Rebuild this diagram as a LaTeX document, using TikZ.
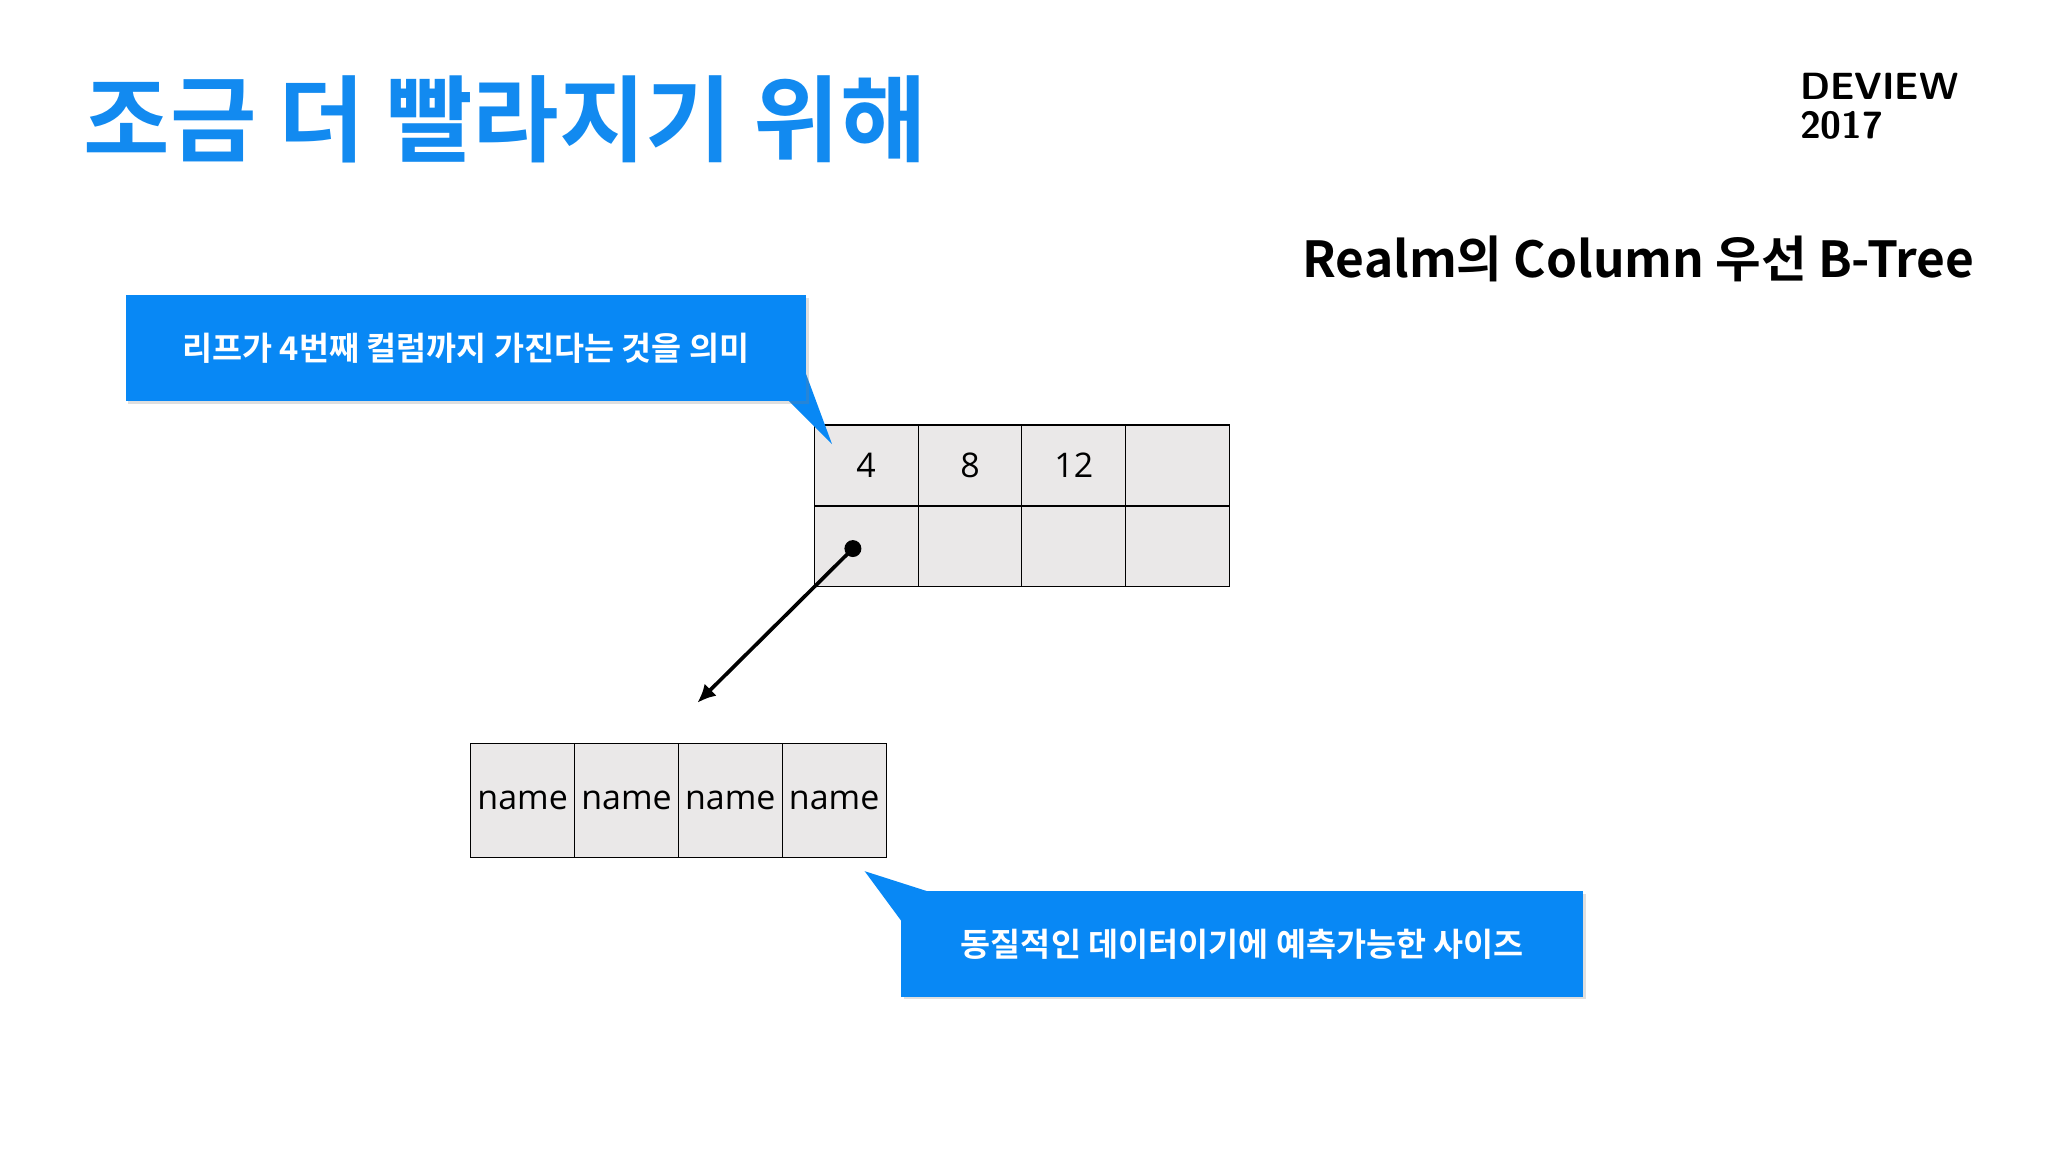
\documentclass[tikz,border=0pt]{standalone}
\usepackage{fontspec}
\setmainfont{Open Sans}
\newfontfamily\kr{Noto Sans CJK KR}
\newfontfamily\krb{Noto Sans CJK KR Bold}
\usetikzlibrary{arrows.meta,shadows}
\definecolor{tblue}{RGB}{18,138,240}
\definecolor{cblue}{RGB}{8,136,245}
\definecolor{cellg}{RGB}{234,232,232}
\tikzset{cell/.style={draw=black,fill=cellg,line width=0.8pt,minimum width=79.5pt,minimum height=62pt,inner sep=0,font=\fontsize{26}{30}\selectfont},
callout/.style={fill=cblue,drop shadow={opacity=0.25,shadow xshift=2pt,shadow yshift=-2pt}}}
\begin{document}
\begin{tikzpicture}[x=1pt,y=-1pt]
\useasboundingbox[fill=white] (0,0) rectangle (1568,882);
\node[anchor=west,inner sep=0,text=tblue,font=\krb\fontsize{72}{76}\selectfont] (title) at (64,91) {조금 더 빨라지기 위해};
\node[anchor=north west,inner sep=0,align=left,font=\sffamily\bfseries\fontsize{29}{30}\selectfont] (dev) at (1378,56) {DEVIEW\\2017};
\node[anchor=east,inner sep=0,font=\krb\fontsize{38}{40}\selectfont] (sub) at (1512,198) {Realm의 Column 우선 B-Tree};
% top table
\foreach \i/\t in {0/4,1/8,2/12,3/{}}{
  \node[cell,anchor=north west] (t\i) at (623+79.5*\i,325) {\t};
  \node[cell,anchor=north west] (b\i) at (623+79.5*\i,387) {};
}
% callout 1
\fill[cblue] (603,306) -- (617,286) -- (637,340) -- cycle;
\node[callout,anchor=north west,minimum width=521pt,minimum height=81pt,inner sep=0] (c1) at (96,226) {};
\node[text=white,font=\krb\fontsize{25}{28}\selectfont] at (c1.center) {리프가 4번째 컬럼까지 가진다는 것을 의미};
\coordinate (dot) at (653,420);
\coordinate (tip) at (534,538);
\fill (dot) circle (6.5pt);
\draw[line width=2.8pt,-{Latex[length=14pt,width=13pt]}] (dot) -- (tip);
% bottom table
\foreach \i in {0,1,2,3}{
  \node[cell,anchor=north west,minimum height=87pt] (n\i) at (360+79.5*\i,569) {name};
}
% callout 2
\fill[cblue] (662,667) -- (712,683) -- (690,705) -- cycle;
\node[callout,anchor=north west,minimum width=522pt,minimum height=81pt,inner sep=0] (c2) at (690,682) {};
\node[text=white,font=\krb\fontsize{25}{28}\selectfont] at (c2.center) {동질적인 데이터이기에 예측가능한 사이즈};
\end{tikzpicture}
\end{document}
